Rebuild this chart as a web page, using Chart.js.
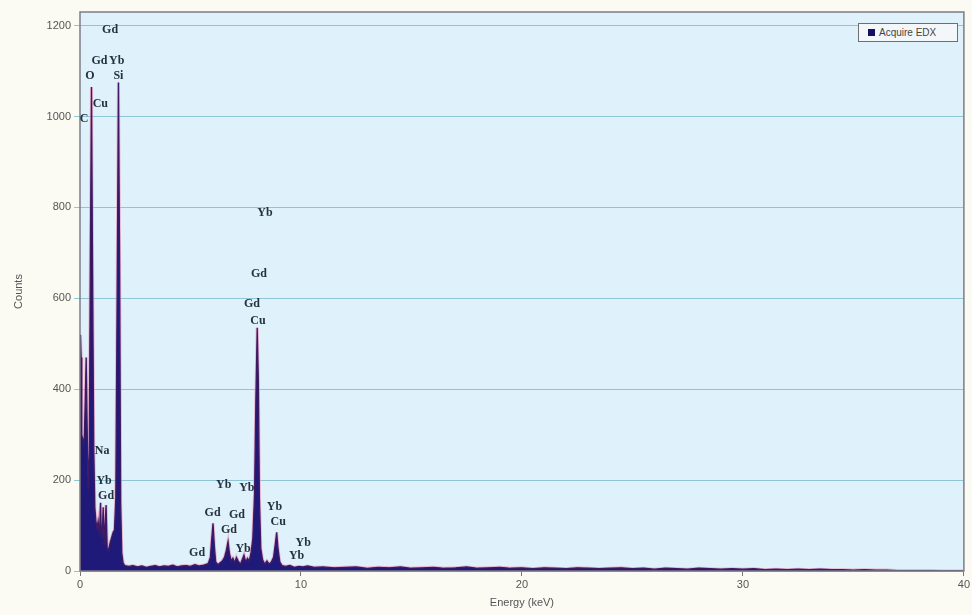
<!DOCTYPE html>
<html>
<head>
<meta charset="utf-8">
<script src="https://cdn.jsdelivr.net/npm/chart.js@4.4.1/dist/chart.umd.min.js"></script>
<style>
  html, body { margin: 0; padding: 0; background: #fbfbf4; }
  #wrap { position: relative; width: 972px; height: 615px; }
  #legend { position: absolute; left: 858px; top: 23px; width: 100px; height: 19px; box-sizing: border-box;
            border: 1px solid #6f6f6f; background: #f3f7f9; font-family: "Liberation Sans", Arial, sans-serif;
            font-size: 10px; color: #444; line-height: 17px; padding-left: 9px; white-space: nowrap; }
  #legend span.sw { display: inline-block; width: 7px; height: 7px; background: #14125e; margin-right: 4px; }
</style>
</head>
<body>
<div id="wrap">
  <canvas id="c" width="972" height="615"></canvas>
  <div id="legend"><span class="sw"></span>Acquire EDX</div>
</div>
<script>
// ---- data ----
const energies = [
  0.00,0.02,0.05,0.08,0.12,0.16,0.20,0.24,0.28,0.32,0.37,0.42,0.47,0.52,0.57,0.62,0.67,0.72,0.77,0.82,
  0.88,0.93,0.97,1.01,1.05,1.09,1.13,1.18,1.23,1.28,1.33,1.38,1.44,1.50,1.56,1.62,1.68,1.74,1.79,1.84,
  1.89,1.95,2.02,
  2.2,2.4,2.6,2.8,3.0,3.2,3.4,3.6,3.8,4.0,4.2,4.4,4.6,4.8,5.0,5.2,5.4,5.6,5.8,
  5.9,5.96,6.02,6.08,6.14,6.24,6.34,6.44,6.54,6.62,6.70,6.76,6.84,6.92,7.00,7.08,7.16,7.26,7.34,7.42,
  7.50,7.58,7.66,7.74,7.82,7.90,7.96,8.02,8.07,8.12,8.18,8.26,8.36,8.46,8.56,8.66,8.76,8.84,8.90,8.96,
  9.04,9.14,9.30,9.50,9.70,9.90,10.1,10.3,10.6,
  11,11.5,12,12.5,13,13.5,14,14.5,15,15.5,16,16.5,17,17.5,18,18.5,19,19.5,20,20.5,21,21.5,22,22.5,
  23,23.5,24,24.5,25,25.5,26,26.5,27,27.5,28,28.5,29,29.5,30,30.5,31,31.5,32,32.5,33,33.5,34,34.5,
  35,35.5,36,36.5,37,37.5,38,38.5,39,39.5,40
];
const counts = [
  0,520,470,300,290,280,300,380,470,330,180,260,700,1065,650,280,140,110,95,110,
  80,150,70,90,140,60,100,145,50,45,55,65,75,85,90,160,600,1075,700,150,
  40,18,12,
  10,12,9,11,8,10,12,9,11,10,13,9,11,12,10,14,11,13,16,
  30,70,105,55,20,14,18,22,30,45,65,40,22,28,18,30,22,15,25,35,
  20,28,22,40,70,170,380,535,420,160,50,25,15,22,15,20,30,60,85,50,
  20,12,10,12,8,10,9,11,8,
  9,7,8,9,6,8,7,9,6,7,8,6,7,9,6,7,8,6,7,5,7,6,5,7,
  6,5,6,7,5,6,4,6,5,4,6,5,4,5,4,5,3,4,3,4,3,4,3,3,
  2,3,2,2,1,1,1,1,0,0,0
];
const peakLabels  = ["Gd","Gd","Yb","O","Si","Cu","C","Na","Yb","Gd",
                     "Yb","Gd","Gd","Cu","Yb","Yb","Yb","Cu","Gd","Gd","Gd","Yb","Gd","Yb","Yb"];
const labelEnergy = [1.36,0.88,1.66,0.45,1.74,0.92,0.18,1.00,1.09,1.18,
                     8.37,8.10,7.78,8.05,6.50,7.55,8.80,8.97,6.00,7.10,6.74,7.38,5.30,10.1,9.80];
const labelCount  = [1190,1122,1122,1089,1089,1028,995,265,198,165,
                     787,653,587,551,190,183,141,108,128,123,90,49,40,62,33];
const xTicks = [0,10,20,30,40];
const yTicks = [0,200,400,600,800,1000,1200];
const seriesName = "Acquire EDX";

const points = energies.map((e, i) => ({ x: e, y: counts[i] }));

const bgPlugin = {
  id: 'bg',
  beforeDraw(chart) {
    const { ctx, chartArea: a } = chart;
    ctx.save();
    ctx.fillStyle = '#fbfbf4';
    ctx.fillRect(0, 0, chart.width, chart.height);
    ctx.fillStyle = '#dff1fb';
    ctx.fillRect(a.left, a.top, a.right - a.left, a.bottom - a.top);
    ctx.restore();
  },
  afterDatasetsDraw(chart) {
    const { ctx, chartArea: a, scales } = chart;
    ctx.save();
    ctx.strokeStyle = '#7c7c86';
    ctx.lineWidth = 1.5;
    ctx.strokeRect(a.left, a.top, a.right - a.left, a.bottom - a.top);
    ctx.font = 'bold 12px "Liberation Serif", "DejaVu Serif", serif';
    ctx.fillStyle = '#24323f';
    ctx.textAlign = 'center';
    ctx.textBaseline = 'middle';
    peakLabels.forEach((t, i) => {
      ctx.fillText(t, scales.x.getPixelForValue(labelEnergy[i]), scales.y.getPixelForValue(labelCount[i]));
    });
    ctx.restore();
  }
};

new Chart(document.getElementById('c'), {
  type: 'line',
  data: {
    datasets: [
      { label: seriesName, data: points, borderColor: '#3e1a64', borderWidth: 1.3,
        backgroundColor: '#1f1a7a', fill: 'origin', pointRadius: 0, tension: 0 },
      { label: 'halo', data: points, borderColor: 'rgba(236,130,170,0.55)', borderWidth: 3,
        fill: false, pointRadius: 0, tension: 0 }
    ]
  },
  options: {
    responsive: false,
    animation: false,
    layout: { padding: { left: 0, right: 6, top: 12, bottom: 0 } },
    plugins: { legend: { display: false }, tooltip: { enabled: false } },
    scales: {
      x: {
        type: 'linear', min: 0, max: 40,
        afterBuildTicks: s => { s.ticks = xTicks.map(v => ({ value: v })); },
        afterFit: s => { s.height = 44; },
        grid: { display: true, drawOnChartArea: false, drawTicks: true, tickLength: 5, color: '#777' },
        border: { display: false },
        ticks: { color: '#555', font: { family: '"Liberation Sans", Arial, sans-serif', size: 11 }, padding: 2, maxRotation: 0,
                 callback: v => String(v) },
        title: { display: true, text: 'Energy (keV)', color: '#555',
                 font: { family: '"Liberation Sans", Arial, sans-serif', size: 11 }, padding: { top: 0, bottom: 5 } }
      },
      y: {
        type: 'linear', min: 0, max: 1230,
        afterBuildTicks: s => { s.ticks = yTicks.map(v => ({ value: v })); },
        afterFit: s => { s.width = 80; },
        grid: { display: true, drawOnChartArea: true, drawTicks: true, tickLength: 6, color: '#8fc6d6' },
        border: { display: false },
        ticks: { color: '#555', font: { family: '"Liberation Sans", Arial, sans-serif', size: 11 }, padding: 3,
                 callback: v => String(v) },
        title: { display: true, text: 'Counts', color: '#555',
                 font: { family: '"Liberation Sans", Arial, sans-serif', size: 11 }, padding: { top: 12, bottom: 0 } }
      }
    }
  },
  plugins: [bgPlugin]
});
</script>
</body>
</html>
